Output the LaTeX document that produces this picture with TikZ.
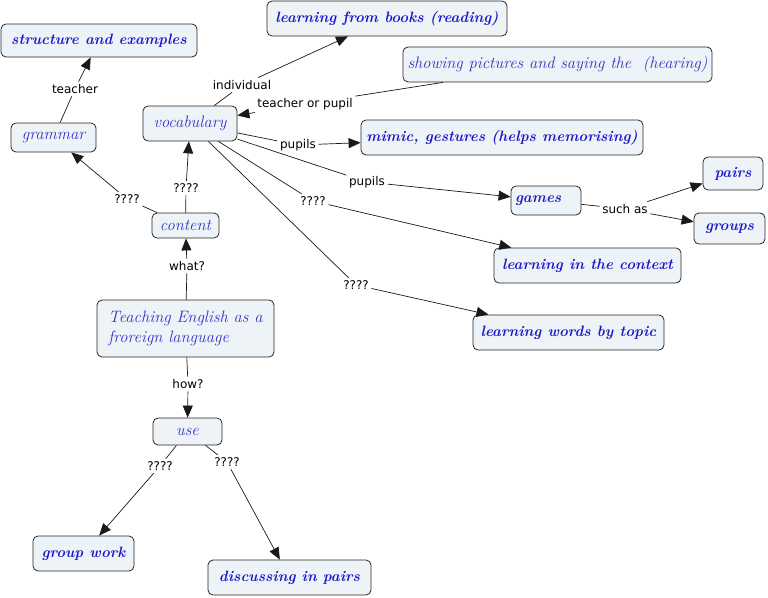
\documentclass[tikz,border=0pt]{standalone}
\usepackage{fontspec}
\newfontfamily\lblfont{DejaVu Sans}
\usetikzlibrary{arrows.meta}
\definecolor{boxfill}{HTML}{EEF3F7}
\definecolor{boldblue}{HTML}{1A1AC8}
\definecolor{thinblue}{HTML}{3434C4}
\begin{document}
\begin{tikzpicture}[x=1pt,y=-1pt,
 box/.style={draw=black!85, fill=boxfill, rounded corners=5pt, line width=0.8pt, inner sep=1pt},
 bbox/.style={box, text=boldblue, font=\fontsize{15}{18}\selectfont\bfseries\itshape},
 nbox/.style={box, text=thinblue, font=\fontsize{16.5}{20}\selectfont\itshape},
 lbl/.style={font=\lblfont\fontsize{12}{14}\selectfont, inner sep=2.5pt, text=black},
 con/.style={line width=0.7pt, draw=black!90},
 arr/.style={con, -{Triangle[length=12pt,width=10pt]}}
]
\useasboundingbox (0,0) rectangle (768,597);
% nodes
\node[bbox, minimum width=196, minimum height=33] (struct) at (99,40.5) {structure and examples};
\node[bbox, minimum width=240, minimum height=35] (books) at (387,18.5) {learning from books (reading)};
\node[nbox, minimum width=309, minimum height=35] (show) at (557.5,64.5) {showing pictures and saying the\ \ (hearing)};
\node[nbox, minimum width=94, minimum height=35] (vocab) at (190,123.5) {vocabulary};
\node[nbox, minimum width=85, minimum height=29] (gram) at (53.5,137.5) {grammar};
\node[bbox, minimum width=282, minimum height=35] (mimic) at (502,137.5) {mimic, gestures (helps memorising)};
\node[bbox, minimum width=60, minimum height=33] (pairs) at (733,173.5) {pairs};
\node[bbox, text width=62, align=left, inner sep=4pt, minimum height=29] (games) at (546,200.5) {games};
\node[bbox, minimum width=71, minimum height=31] (groups) at (729.5,228.5) {groups};
\node[nbox, minimum width=67, minimum height=25] (content) at (185.5,225.5) {content};
\node[bbox, minimum width=187, minimum height=35] (context) at (587.5,265.5) {learning in the context};
\node[nbox, minimum width=177, minimum height=57, align=left] (teach) at (185.5,328.5) {Teaching English as a\\froreign language};
\node[bbox, minimum width=191, minimum height=35] (topic) at (568.5,332.5) {learning words by topic};
\node[nbox, minimum width=69, minimum height=27] (use) at (187.5,431.5) {use};
\node[bbox, minimum width=101, minimum height=35] (gwork) at (83.5,553.5) {group work};
\node[bbox, minimum width=163, minimum height=35] (disc) at (289.5,577.5) {discussing in pairs};
% labels
\node[lbl] (l1) at (75,89) {teacher};
\node[lbl] (l2) at (242,85) {individual};
\node[lbl] (l3) at (305,104) {teacher or pupil};
\node[lbl] (l4) at (298,145) {pupils};
\node[lbl] (l5) at (367,182) {pupils};
\node[lbl] (l6) at (127,199) {????};
\node[lbl] (l7) at (186,188) {????};
\node[lbl] (l8) at (187,266) {what?};
\node[lbl] (l9) at (313,201) {????};
\node[lbl] (l10) at (356,285) {????};
\node[lbl] (l11) at (625,209) {such as};
\node[lbl] (l12) at (188,384) {how?};
\node[lbl] (l13) at (160,466) {????};
\node[lbl] (l14) at (227,462) {????};
% connectors
\draw[con] (gram) -- (l1); \draw[arr] (l1) -- (struct);
\draw[con] (vocab) -- (l2); \draw[arr] (l2) -- (books);
\draw[con] (show) -- (l3); \draw[arr] (l3) -- (vocab);
\draw[con] (vocab) -- (l4); \draw[arr] (l4) -- (mimic);
\draw[con] (vocab) -- (l5); \draw[arr] (l5) -- (games);
\draw[con] (content) -- (l6); \draw[arr] (l6) -- (gram);
\draw[con] (content) -- (l7); \draw[arr] (l7) -- (vocab);
\draw[con] (teach) -- (l8); \draw[arr] (l8) -- (content);
\draw[con] (vocab) -- (l9); \draw[arr] (l9) -- (context);
\draw[con] (vocab) -- (l10); \draw[arr] (l10) -- (topic);
\draw[con] (games) -- (l11); \draw[arr] (l11) -- (pairs); \draw[arr] (l11) -- (groups);
\draw[con] (teach) -- (l12); \draw[arr] (l12) -- (use);
\draw[con] (use) -- (l13); \draw[arr] (l13) -- (gwork);
\draw[con] (use) -- (l14); \draw[arr] (l14) -- (disc);
\end{tikzpicture}
\end{document}
